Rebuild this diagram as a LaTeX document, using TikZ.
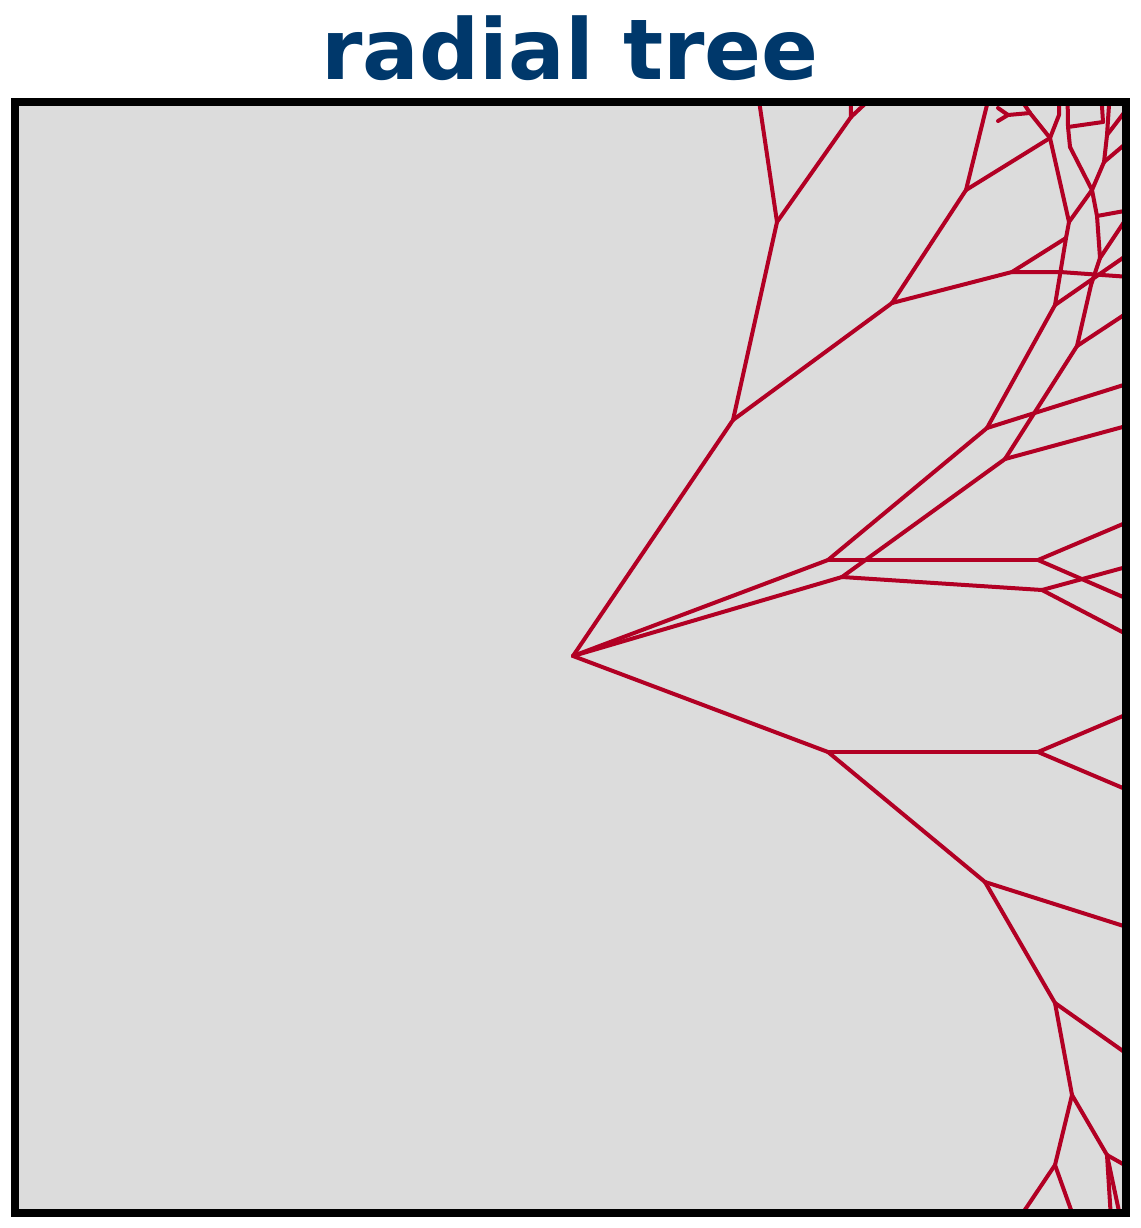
\documentclass[tikz,border=0pt]{standalone}
\usepackage{fontspec}
\newfontfamily\titlefont{DejaVu Sans}
\definecolor{treered}{RGB}{178,0,36}
\definecolor{titleblue}{RGB}{0,56,107}
\definecolor{panelgray}{RGB}{220,220,220}
\tikzset{
  edge/.style={draw=treered, line width=4pt, line cap=round, line join=round},
  frame/.style={draw=black, line width=8pt},
}
\begin{document}
\begin{tikzpicture}[x=1pt,y=-1pt]
\useasboundingbox (0,0) rectangle (1140,1228);
\node[anchor=base, text=titleblue, inner sep=0pt] (title) at (570,80)
  {\titlefont\bfseries\fontsize{84}{100}\selectfont radial tree};
\fill[panelgray] (14.5,102) rectangle (1125.5,1212.5);
% tree nodes
\coordinate (R) at (573,656);
\coordinate (A) at (733,420);
\coordinate (B) at (777,222);
\coordinate (Bq) at (851,117);
\coordinate (C) at (892,303);
\coordinate (D) at (966,190);
\coordinate (G) at (1050,138);
\coordinate (Gb) at (1059,115);
\coordinate (Mp) at (1030,113);
\coordinate (M) at (1008,115);
\coordinate (X) at (1012,272);
\coordinate (E) at (1060,272);
\coordinate (Y) at (1066,238);
\coordinate (T) at (1069,222);
\coordinate (N1) at (828,560);
\coordinate (N2) at (842,577);
\coordinate (N3) at (1038,560);
\coordinate (N4) at (1042,590);
\coordinate (N5) at (987,428);
\coordinate (N6) at (1005,459);
\coordinate (N7) at (1055,305);
\coordinate (N8) at (1077,346);
\coordinate (J) at (1091,285);
\coordinate (J2) at (1100,258);
\coordinate (K1) at (1097,216);
\coordinate (K4) at (1092,190);
\coordinate (K2) at (1070,147);
\coordinate (K2b) at (1068,127);
\coordinate (K3) at (1103,122);
\coordinate (K6) at (1104,162);
\coordinate (K5) at (1107,135);
\coordinate (L1) at (828,752);
\coordinate (L2) at (1038,752);
\coordinate (L3) at (985,882);
\coordinate (L4) at (1055,1003);
\coordinate (L5) at (1072,1095);
\coordinate (L6) at (1055,1165);
\coordinate (L7) at (1107,1155);
% free ends (beyond the panel, clipped)
\coordinate (fB) at (753,60);
\coordinate (fBq1) at (850,60);
\coordinate (fBq2) at (885,85);
\coordinate (fD) at (998,60);
\coordinate (fMp) at (1018,95);
\coordinate (fM1) at (998,108);
\coordinate (fM2) at (998,121);
\coordinate (fG) at (1060,60);
\coordinate (fE) at (1130,277);
\coordinate (fN5) at (1130,383);
\coordinate (fN6) at (1130,425);
\coordinate (fN7) at (1130,253);
\coordinate (fN8) at (1130,311);
\coordinate (fJ2) at (1130,213);
\coordinate (fK1) at (1130,210);
\coordinate (fK2) at (1067,60);
\coordinate (fK3) at (1099,60);
\coordinate (fK5a) at (1112,60);
\coordinate (fK5b) at (1130,105);
\coordinate (fK6) at (1130,140);
\coordinate (fN3a) at (1130,521);
\coordinate (fN3b) at (1130,600);
\coordinate (fN4a) at (1130,566);
\coordinate (fN4b) at (1130,636);
\coordinate (fL2a) at (1130,713);
\coordinate (fL2b) at (1130,791);
\coordinate (fL3) at (1130,928);
\coordinate (fL4) at (1130,1056);
\coordinate (fL6a) at (1008,1235);
\coordinate (fL6b) at (1080,1235);
\coordinate (fL7a) at (1112,1235);
\coordinate (fL7b) at (1124,1235);
\coordinate (fL7c) at (1130,1168);
\begin{scope}
\clip (14.5,102) rectangle (1125.5,1212.5);
% upper part
\draw[edge] (R) -- (A);
\draw[edge] (A) -- (B);
\draw[edge] (A) -- (C);
\draw[edge] (B) -- (fB);
\draw[edge] (B) -- (Bq);
\draw[edge] (Bq) -- (fBq1);
\draw[edge] (Bq) -- (fBq2);
\draw[edge] (C) -- (D);
\draw[edge] (D) -- (fD);
\draw[edge] (D) -- (G);
\draw[edge] (G) -- (Mp);
\draw[edge] (Mp) -- (fMp);
\draw[edge] (Mp) -- (M);
\draw[edge] (M) -- (fM1);
\draw[edge] (M) -- (fM2);
\draw[edge] (G) -- (Gb) -- (fG);
\draw[edge] (C) -- (X);
\draw[edge] (X) -- (E) -- (fE);
\draw[edge] (X) -- (Y);
\draw[edge] (N7) -- (Y);
\draw[edge] (Y) -- (T);
\draw[edge] (T) -- (G);
\draw[edge] (T) -- (K4);
\draw[edge] (R) -- (N1);
\draw[edge] (R) -- (N2);
\draw[edge] (N1) -- (N5);
\draw[edge] (N5) -- (N7);
\draw[edge] (N5) -- (fN5);
\draw[edge] (N2) -- (N6);
\draw[edge] (N6) -- (N8);
\draw[edge] (N6) -- (fN6);
\draw[edge] (N7) -- (fN7);
\draw[edge] (N8) -- (J);
\draw[edge] (N8) -- (fN8);
\draw[edge] (J) -- (J2);
\draw[edge] (J2) -- (K1);
\draw[edge] (J2) -- (fJ2);
\draw[edge] (K1) -- (fK1);
\draw[edge] (K1) -- (K4);
\draw[edge] (K4) -- (K2);
\draw[edge] (K2) -- (K2b);
\draw[edge] (K2b) -- (fK2);
\draw[edge] (K2b) -- (K3);
\draw[edge] (K3) -- (fK3);
\draw[edge] (K4) -- (K6);
\draw[edge] (K6) -- (K5);
\draw[edge] (K5) -- (fK5a);
\draw[edge] (K5) -- (fK5b);
\draw[edge] (K6) -- (fK6);
% middle part
\draw[edge] (N1) -- (N3);
\draw[edge] (N2) -- (N4);
\draw[edge] (N3) -- (fN3a);
\draw[edge] (N3) -- (fN3b);
\draw[edge] (N4) -- (fN4a);
\draw[edge] (N4) -- (fN4b);
% lower part
\draw[edge] (R) -- (L1);
\draw[edge] (L1) -- (L2);
\draw[edge] (L1) -- (L3);
\draw[edge] (L2) -- (fL2a);
\draw[edge] (L2) -- (fL2b);
\draw[edge] (L3) -- (fL3);
\draw[edge] (L3) -- (L4);
\draw[edge] (L4) -- (fL4);
\draw[edge] (L4) -- (L5);
\draw[edge] (L5) -- (L6);
\draw[edge] (L5) -- (L7);
\draw[edge] (L6) -- (fL6a);
\draw[edge] (L6) -- (fL6b);
\draw[edge] (L7) -- (fL7a);
\draw[edge] (L7) -- (fL7b);
\draw[edge] (L7) -- (fL7c);
\end{scope}
\draw[frame] (14.5,102) rectangle (1125.5,1212.5);
\end{tikzpicture}
\end{document}
